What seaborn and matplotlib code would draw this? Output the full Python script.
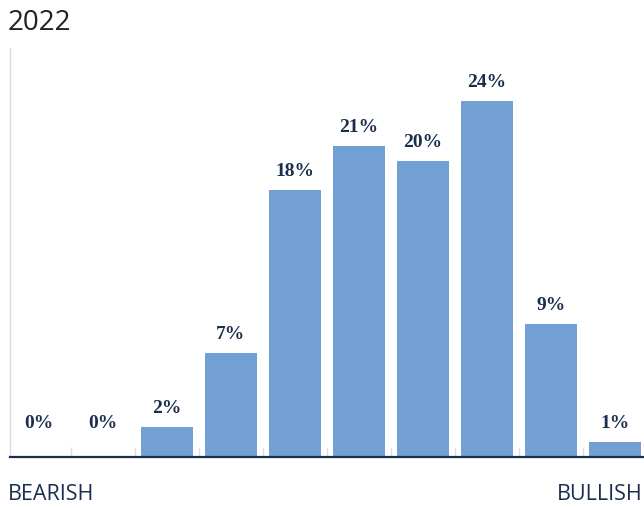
import matplotlib
matplotlib.use("Agg")
import matplotlib.pyplot as plt
import seaborn as sns
import pandas as pd

# Sentiment distribution, from most bearish (left) to most bullish (right)
buckets = [1, 2, 3, 4, 5, 6, 7, 8, 9, 10]
shares = [0, 0, 2, 7, 18, 21, 20, 24, 9, 1]
title = "2022"
left_label = "BEARISH"
right_label = "BULLISH"

bar_color = "#729fd4"
navy = "#1b2f4d"

sns.set_theme(style="white")
plt.rcParams["font.family"] = ["Open Sans", "DejaVu Sans"]

df = pd.DataFrame({"bucket": [str(b) for b in buckets], "share": shares})

fig = plt.figure(figsize=(6.44, 5.08), dpi=100)
ax = fig.add_axes([10 / 644, 1 - 457 / 508, 634 / 644, 409 / 508])

sns.barplot(data=df, x="bucket", y="share", color=bar_color, saturation=1,
            width=0.81, linewidth=0, ax=ax, errorbar=None)

ax.set_xlim(-0.45, 9.456)
ax.set_ylim(0, 27.6)

for i, v in enumerate(shares):
    ax.annotate(f"{v}%", (i, max(v, 1)), xytext=(0, 10), textcoords="offset points",
                ha="center", va="baseline", fontsize=14, fontweight="bold",
                color=navy, family="Liberation Serif")

# spines and separators
for side in ("top", "right"):
    ax.spines[side].set_visible(False)
ax.spines["left"].set_color("#dddddd")
ax.spines["left"].set_linewidth(1.0)
ax.spines["bottom"].set_color(navy)
ax.spines["bottom"].set_linewidth(1.6)
ax.spines["bottom"].set_zorder(5)

ax.set_xticks([i + 0.5 for i in range(9)])
ax.set_xticklabels([])
ax.tick_params(axis="x", direction="in", length=7, width=1, color="#dddddd",
               bottom=True, pad=0)
ax.set_yticks([])
ax.set_xlabel("")
ax.set_ylabel("")

fig.text(8 / 644, 1 - 23 / 508, title, ha="left", va="center",
         fontsize=20, color="#222222")
fig.text(8 / 644, 1 - 495 / 508, left_label, ha="left", va="center",
         fontsize=15.5, color=navy)
fig.text(643 / 644, 1 - 495 / 508, right_label, ha="right", va="center",
         fontsize=15.5, color=navy)

fig.savefig("out.png", dpi=100)
